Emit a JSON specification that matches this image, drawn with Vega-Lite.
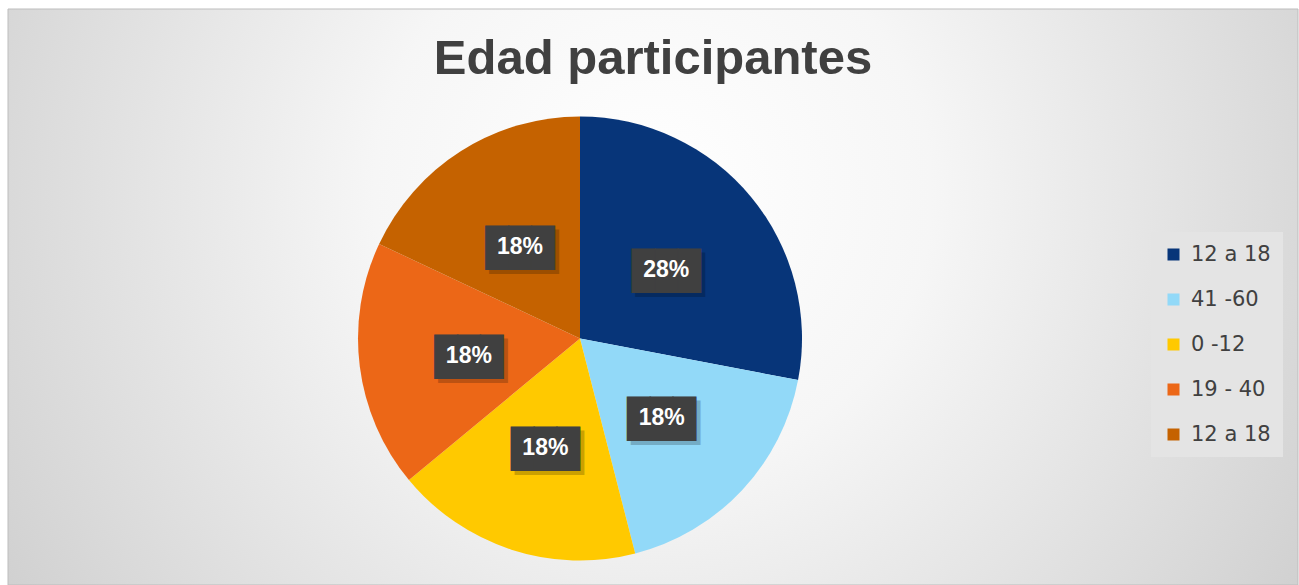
{
  "$schema": "https://vega.github.io/schema/vega-lite/v6.json",
  "width": 1290,
  "height": 576,
  "padding": {"left": 8, "top": 9, "right": 1, "bottom": 0},
  "autosize": {"type": "none"},
  "background": "white",
  "config": {"view": {"stroke": null}},
  "title": {
    "text": "Edad participantes",
    "font": "Liberation Sans",
    "fontSize": 49,
    "fontWeight": "bold",
    "color": "#404040",
    "anchor": "middle",
    "baseline": "alphabetic",
    "offset": -66,
    "dy": 48
  },
  "data": {
    "values": [
      {"id": 1, "rango": "12 a 18", "valor": 0.28},
      {"id": 2, "rango": "41 -60", "valor": 0.18},
      {"id": 3, "rango": "0 -12", "valor": 0.18},
      {"id": 4, "rango": "19 - 40", "valor": 0.18},
      {"id": 5, "rango": "12 a 18", "valor": 0.18}
    ]
  },
  "layer": [
    {
      "data": {"values": [{"fondo": 1}]},
      "mark": {
        "type": "rect",
        "stroke": "#bdbdbd",
        "strokeWidth": 1,
        "fill": {
          "gradient": "radial",
          "x1": 0.5, "y1": 0.42, "r1": 0,
          "x2": 0.5, "y2": 0.42, "r2": 0.72,
          "stops": [
            {"offset": 0, "color": "#ffffff"},
            {"offset": 0.3, "color": "#f6f6f6"},
            {"offset": 1, "color": "#c3c3c3"}
          ]
        }
      },
      "encoding": {
        "x": {"value": 0},
        "x2": {"value": "width"},
        "y": {"value": 0},
        "y2": {"value": "height"}
      }
    },
    {
      "mark": {"type": "arc", "outerRadius": 222, "x": 572, "y": 329.5},
      "encoding": {
        "theta": {"field": "valor", "type": "quantitative", "stack": true},
        "order": {"field": "id", "type": "quantitative"},
        "color": {
          "field": "id",
          "type": "nominal",
          "scale": {
            "domain": [1, 2, 3, 4, 5],
            "range": ["#073579", "#92d9f8", "#ffc900", "#ec6717", "#c56200"]
          },
          "legend": {
            "orient": "none",
            "legendX": 1143,
            "legendY": 223,
            "title": null,
            "padding": 12,
            "fillColor": "#e4e4e4",
            "symbolType": "square",
            "symbolSize": 144,
            "symbolStrokeWidth": 0,
            "labelFont": "DejaVu Sans",
            "labelFontSize": 21,
            "labelColor": "#404040",
            "labelOffset": 7,
            "rowPadding": 23,
            "labelExpr": "['12 a 18','41 -60','0 -12','19 - 40','12 a 18'][datum.value - 1]"
          }
        }
      }
    },
    {
      "mark": {"type": "text", "radius": 112, "x": 576, "y": 336.5, "font": "Liberation Mono", "fontSize": 38, "baseline": "middle", "align": "center", "color": "#000000", "opacity": 0.2, "stroke": "#000000", "strokeWidth": 1.5},
      "encoding": {
        "theta": {"field": "valor", "type": "quantitative", "stack": true},
        "order": {"field": "id", "type": "quantitative"},
        "detail": {"field": "id", "type": "nominal"},
        "text": {"value": "███"}
      }
    },
    {
      "mark": {"type": "text", "radius": 112, "x": 572, "y": 332.5, "font": "Liberation Mono", "fontSize": 38, "baseline": "middle", "align": "center", "color": "#404040", "stroke": "#404040", "strokeWidth": 1.5},
      "encoding": {
        "theta": {"field": "valor", "type": "quantitative", "stack": true},
        "order": {"field": "id", "type": "quantitative"},
        "detail": {"field": "id", "type": "nominal"},
        "text": {"value": "███"}
      }
    },
    {
      "mark": {"type": "text", "radius": 112, "x": 572, "y": 332.5, "font": "Liberation Sans", "fontSize": 23, "fontWeight": "bold", "baseline": "middle", "align": "center", "color": "#ffffff"},
      "encoding": {
        "theta": {"field": "valor", "type": "quantitative", "stack": true},
        "order": {"field": "id", "type": "quantitative"},
        "detail": {"field": "id", "type": "nominal"},
        "text": {"field": "valor", "type": "quantitative", "format": ".0%"}
      }
    }
  ]
}
